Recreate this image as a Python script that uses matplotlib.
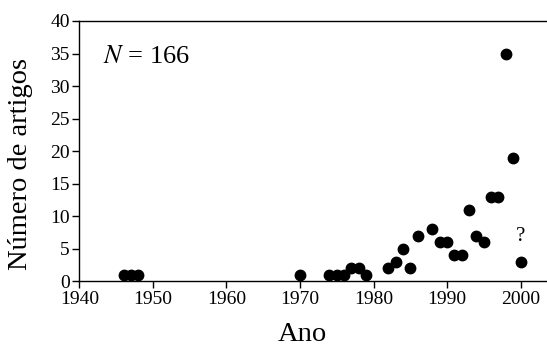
import matplotlib
matplotlib.use("Agg")
import matplotlib.pyplot as plt

# articles per year
years = [1946, 1947, 1948, 1970, 1974, 1975, 1976, 1977, 1978, 1979,
         1982, 1983, 1984, 1985, 1986, 1988, 1989, 1990, 1991, 1992,
         1993, 1994, 1995, 1996, 1997, 1998, 1999, 2000]
counts = [1, 1, 1, 1, 1, 1, 1, 2, 2, 1,
          2, 3, 5, 2, 7, 8, 6, 6, 4, 4,
          11, 7, 6, 13, 13, 35, 19, 3]
xticks = [1940, 1950, 1960, 1970, 1980, 1990, 2000]
yticks = [0, 5, 10, 15, 20, 25, 30, 35, 40]

plt.rcParams["font.family"] = ["Liberation Serif", "DejaVu Serif"]
plt.rcParams["mathtext.fontset"] = "stix"

fig = plt.figure(figsize=(5.47, 3.47), dpi=100)
ax = fig.add_axes([0.1453, 0.190, 0.8547, 0.7495])

ax.plot(years, counts, "o", color="black", ms=7.5, clip_on=False)
ax.text(2000, 6.9, "?", fontsize=15, ha="center", va="center")
ax.text(1943.2, 33.5, r"$N$ = 166", fontsize=19, ha="left", va="baseline")

ax.set_xlim(1940, 2003.6)
ax.set_ylim(0, 40)
ax.set_xticks(xticks)
ax.set_yticks(yticks)
ax.tick_params(direction="out", length=5, width=1, labelsize=14, pad=2)
ax.spines["right"].set_visible(False)
for s in ("left", "bottom", "top"):
    ax.spines[s].set_linewidth(1)
ax.set_xlabel("Ano", fontsize=20.5)
ax.set_ylabel("Número de artigos", fontsize=20.5)
ax.xaxis.set_label_coords(0.476, -0.156)
ax.yaxis.set_label_coords(-0.0995, 0.45)

fig.savefig("out.png", dpi=100)
